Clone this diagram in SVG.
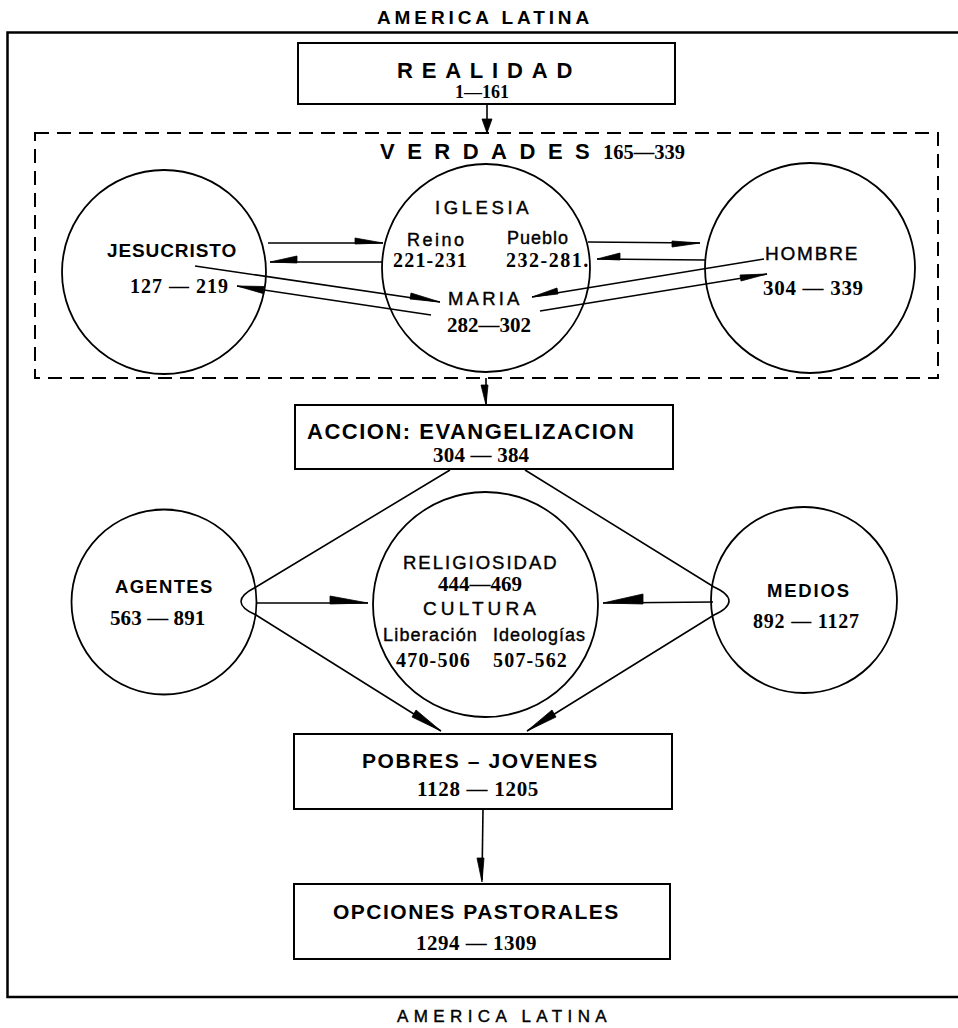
<svg xmlns="http://www.w3.org/2000/svg" width="958" height="1028" viewBox="0 0 958 1028">
<style>
.s{font-family:"Liberation Sans",Arial,sans-serif;fill:#000}
.b{font-weight:bold}
.m{stroke:#000;stroke-width:0.4}
.n{font-family:"Liberation Serif","Times New Roman",serif;font-weight:bold;fill:#000}
.box{fill:#fff;stroke:#000;stroke-width:2}
.c{fill:none;stroke:#000;stroke-width:1.8}
.ln{fill:none;stroke:#000;stroke-width:1.6}
.ah{fill:#000;stroke:#000;stroke-width:0.8}
</style>
<rect width="958" height="1028" fill="#fff"/>
<g id="frame">
<path d="M958,32.5 H7.5 V997 H958" fill="none" stroke="#000" stroke-width="2.5"/>
<text class="s" x="377" y="24" font-size="19" letter-spacing="3.9" font-weight="bold">AMERICA LATINA</text>
<text class="s m" x="397" y="1022" font-size="17" letter-spacing="5.4">AMERICA LATINA</text>
</g>
<g id="realidad">
<rect class="box" x="298" y="43" width="377" height="61"/>
<text class="s b" x="397" y="78" font-size="22" letter-spacing="8.8">REALIDAD</text>
<text class="n" x="455" y="98" font-size="18">1—161</text>
</g>
<g id="verdades">
<rect x="35" y="133" width="903" height="245" fill="none" stroke="#000" stroke-width="2" stroke-dasharray="14,8"/>
<text class="s b" x="380" y="159" font-size="22" letter-spacing="12.5">VERDADES</text>
<text class="n" x="603" y="159" font-size="20.5">165—339</text>
</g>
<g id="jesucristo">
<circle class="c" cx="164" cy="272" r="102"/>
<text class="s b" x="107" y="257" font-size="19" letter-spacing="0.9">JESUCRISTO</text>
<text class="n" x="130" y="293" font-size="20" letter-spacing="1">127 — 219</text>
</g>
<g id="iglesia">
<circle class="c" cx="486" cy="268" r="104"/>
<text class="s m" x="435" y="214" font-size="18.5" letter-spacing="3.6">IGLESIA</text>
<text class="s m" x="407" y="246" font-size="18" letter-spacing="2.5">Reino</text>
<text class="n" x="393" y="267" font-size="20" letter-spacing="1.2">221-231</text>
<text class="s m" x="507" y="244" font-size="18" letter-spacing="1">Pueblo</text>
<text class="n" x="506" y="267" font-size="20" letter-spacing="1.5">232-281.</text>
<text class="s m" x="448" y="305" font-size="18.5" letter-spacing="3.2">MARIA</text>
<text class="n" x="447" y="332" font-size="21">282—302</text>
</g>
<g id="hombre">
<circle class="c" cx="810" cy="268" r="105"/>
<text class="s m" x="765" y="260" font-size="19" letter-spacing="1.8">HOMBRE</text>
<text class="n" x="763" y="295" font-size="21" letter-spacing="0.7">304 — 339</text>
</g>
<g id="accion">
<rect class="box" x="295" y="405" width="378" height="64"/>
<text class="s b" x="307" y="439" font-size="22" letter-spacing="1.5">ACCION: EVANGELIZACION</text>
<text class="n" x="433" y="462" font-size="21" letter-spacing="0.2">304 — 384</text>
</g>
<g id="agentes">
<circle class="c" cx="164" cy="602" r="92.5"/>
<text class="s b" x="115" y="593" font-size="18.5" letter-spacing="1.3">AGENTES</text>
<text class="n" x="110" y="625" font-size="21" letter-spacing="0.1">563 — 891</text>
</g>
<g id="religiosidad">
<circle class="c" cx="485.5" cy="604.5" r="112.5"/>
<text class="s m" x="403" y="569" font-size="18.5" letter-spacing="2">RELIGIOSIDAD</text>
<text class="n" x="438" y="591" font-size="21">444—469</text>
<text class="s m" x="423" y="615" font-size="19" letter-spacing="4.1">CULTURA</text>
<text class="s m" x="383" y="641" font-size="18" letter-spacing="1.2">Liberación</text>
<text class="s m" x="493" y="641" font-size="18" letter-spacing="1">Ideologías</text>
<text class="n" x="396" y="667" font-size="20" letter-spacing="1.2">470-506</text>
<text class="n" x="493" y="667" font-size="20" letter-spacing="1.2">507-562</text>
</g>
<g id="medios">
<circle class="c" cx="804" cy="600" r="93"/>
<text class="s b" x="767" y="597" font-size="18.5" letter-spacing="1.8">MEDIOS</text>
<text class="n" x="753" y="628" font-size="20" letter-spacing="0.8">892 — 1127</text>
</g>
<g id="pobres">
<rect class="box" x="294" y="734" width="378" height="75"/>
<text class="s b" x="362" y="768" font-size="21" letter-spacing="1.6">POBRES – JOVENES</text>
<text class="n" x="417" y="796" font-size="21" letter-spacing="0.7">1128 — 1205</text>
</g>
<g id="opciones">
<rect class="box" x="294" y="884" width="376" height="75"/>
<text class="s b" x="333" y="919" font-size="21" letter-spacing="1.5">OPCIONES PASTORALES</text>
<text class="n" x="416" y="950" font-size="21" letter-spacing="0.5">1294 — 1309</text>
</g>
<g id="connectors">
<line class="ln" x1="487" y1="104" x2="487" y2="132"/>
<polygon class="ah" points="487,133 482,119 492,119"/>
<line class="ln" x1="268" y1="243" x2="383" y2="243"/>
<polygon class="ah" points="383,243 355,238 355,244"/>
<line class="ln" x1="383" y1="262" x2="270" y2="262"/>
<polygon class="ah" points="270,262 297,256 297,263"/>
<line class="ln" x1="195" y1="266" x2="440" y2="302"/>
<polygon class="ah" points="440,302 411,293 410,299"/>
<line class="ln" x1="431" y1="315" x2="237" y2="286"/>
<polygon class="ah" points="237,286 263,293.5 264,286.5"/>
<line class="ln" x1="588" y1="242" x2="700" y2="243"/>
<polygon class="ah" points="700,243 672,241 672,247"/>
<line class="ln" x1="705" y1="260" x2="597" y2="259"/>
<polygon class="ah" points="597,259 620,253 620,260"/>
<line class="ln" x1="764" y1="259" x2="532" y2="297"/>
<polygon class="ah" points="532,297 557,288 558,294"/>
<line class="ln" x1="540" y1="311" x2="767" y2="274"/>
<polygon class="ah" points="767,274 741,281 740,275"/>
<line class="ln" x1="486" y1="378" x2="486" y2="404"/>
<polygon class="ah" points="486,405 481,385 488,385"/>
<path class="ln" d="M450,470 L256,587 C236,597 236,606 256,615 L441,731"/>
<polygon class="ah" points="441,731 412,717 416,710"/>
<path class="ln" d="M525,470 L714,587 C734,596 734,606 714,615 L527,731"/>
<polygon class="ah" points="527,731 556,717 552,710"/>
<line class="ln" x1="256" y1="603" x2="368" y2="603"/>
<polygon class="ah" points="368,603 330,596 330,604"/>
<line class="ln" x1="713" y1="602" x2="603" y2="603"/>
<polygon class="ah" points="603,603 643,594 643,604"/>
<line class="ln" x1="483" y1="809" x2="482" y2="880"/>
<polygon class="ah" points="482,882 477,858 484,858"/>
</g>
</svg>
